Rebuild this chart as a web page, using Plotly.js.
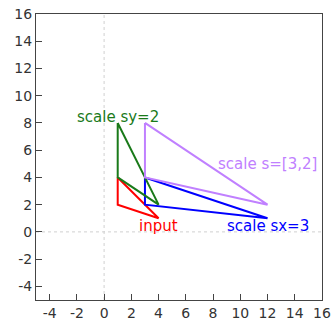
<!DOCTYPE html>
<html>
<head>
<meta charset="utf-8">
<script src="https://cdn.plot.ly/plotly-3.0.1.min.js"></script>
<style>html,body{margin:0;padding:0;background:#fff;}#chart{width:334px;height:324px;}</style>
</head>
<body>
<div id="chart"></div>
<script>
// Shapes (closed triangles)
const inputX = [1, 1, 4, 1];
const inputY = [4, 2, 1, 4];
const sxX = [3, 3, 12, 3];
const sxY = [4, 2, 1, 4];
const syX = [1, 1, 4, 1];
const syY = [8, 4, 2, 8];
const sX = [3, 3, 12, 3];
const sY = [8, 4, 2, 8];

const names = ["input", "scale sx=3", "scale sy=2", "scale s=[3,2]"];
const colors = ["#ff0000", "#0000ff", "#1a7a1a", "#c080ff"];
const labelX = [4, 12, 1, 12];
const labelY = [1, 1, 8, 2];

const xTicks = [-4, -2, 0, 2, 4, 6, 8, 10, 12, 14, 16];
const yTicks = [-4, -2, 0, 2, 4, 6, 8, 10, 12, 14, 16];
const xTickText = ["-4", "-2", "0", "2", "4", "6", "8", "10", "12", "14", "16"];
const yTickText = ["-4", "-2", "0", "2", "4", "6", "8", "10", "12", "14", "16"];

const series = [[inputX, inputY], [sxX, sxY], [syX, syY], [sX, sY]];
const traces = series.map((s, i) => ({
  x: s[0], y: s[1], type: 'scatter', mode: 'lines', name: names[i],
  line: {color: colors[i], width: 2}, hoverinfo: 'skip'
}));

const shifts = [-8, -8, 6, 41];
const ann = names.map((n, i) => ({
  x: labelX[i], y: labelY[i], text: n, xanchor: 'center', yanchor: 'middle', yshift: shifts[i],
  showarrow: false, font: {family: 'DejaVu Sans', size: 15, color: colors[i]}
}));

const layout = {
  width: 334, height: 324,
  margin: {l: 36, r: 12, t: 14, b: 24},
  showlegend: false,
  paper_bgcolor: '#fff', plot_bgcolor: '#fff',
  font: {family: 'DejaVu Sans', size: 14, color: '#333'},
  xaxis: {range: [-5, 16], tickvals: xTicks, ticktext: xTickText, ticks: 'inside', ticklen: 6, tickcolor: '#444',
    showgrid: false, zeroline: false, showline: true, linecolor: '#444', linewidth: 1, mirror: true},
  yaxis: {range: [-5, 16], tickvals: yTicks, ticktext: yTickText, ticks: 'inside', ticklen: 6, tickcolor: '#444',
    showgrid: false, zeroline: false, showline: true, linecolor: '#444', linewidth: 1, mirror: true},
  shapes: [
    {type: 'line', xref: 'x', yref: 'paper', x0: 0, x1: 0, y0: 0, y1: 1, layer: 'below', line: {color: '#d0d0d0', width: 1, dash: 'dot'}},
    {type: 'line', xref: 'paper', yref: 'y', x0: 0, x1: 1, y0: 0, y1: 0, layer: 'below', line: {color: '#d0d0d0', width: 1, dash: 'dot'}}
  ],
  annotations: ann
};
Plotly.newPlot('chart', traces, layout, {displayModeBar: false, staticPlot: true});
</script>
</body>
</html>
